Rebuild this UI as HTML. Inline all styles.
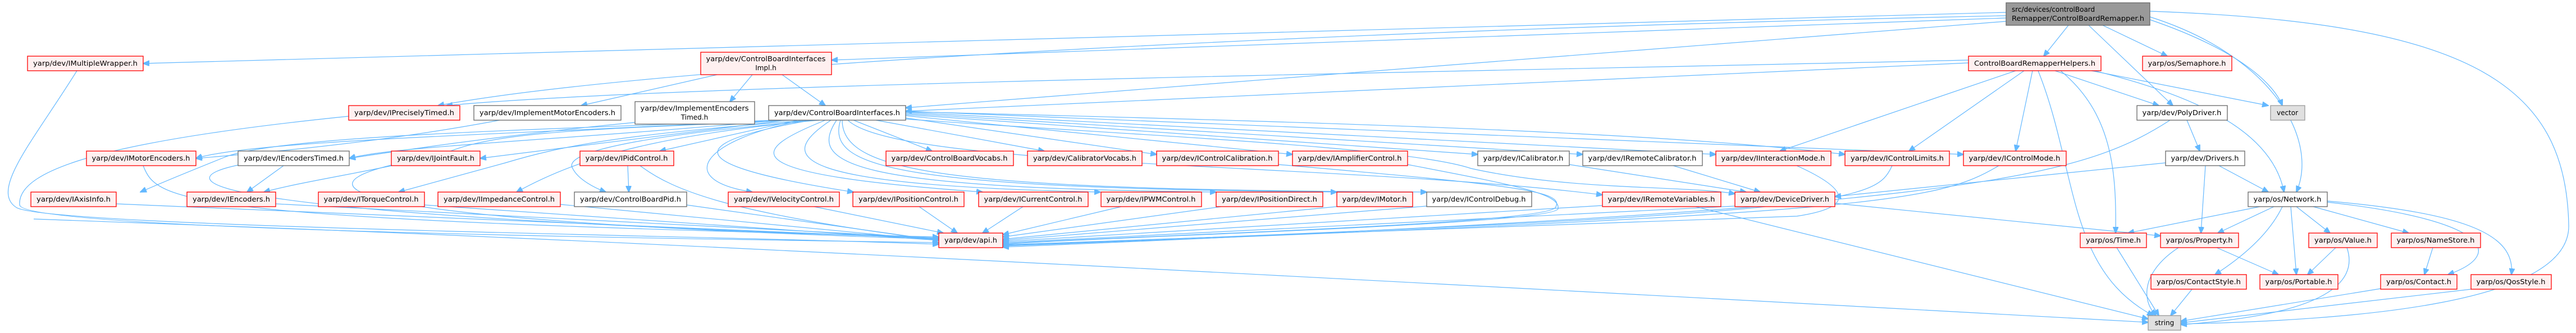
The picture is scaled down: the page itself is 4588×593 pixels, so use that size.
<!DOCTYPE html>
<html><head><meta charset="utf-8"><style>
html,body{margin:0;padding:0;background:#fff;}
svg{display:block;}
text{font-family:"DejaVu Sans","Liberation Sans",sans-serif;font-size:12px;fill:#000;}
.R{fill:#fff0f0;stroke:#ff0000;stroke-width:1.3;}
.G{fill:#fff;stroke:#666;stroke-width:1.3;}
.L{fill:#e0e0e0;stroke:#999;stroke-width:1.3;}
.M{fill:#999;stroke:#666;stroke-width:1.3;}
path{fill:none;stroke:#63b8ff;stroke-width:1.2;marker-end:url(#a);}
</style></head><body>
<svg width="4588" height="593" viewBox="0 0 4588 593" xmlns="http://www.w3.org/2000/svg">
<defs><marker id="a" markerUnits="userSpaceOnUse" markerWidth="12" markerHeight="10" refX="11" refY="5" orient="auto"><polygon points="0,0 12,5 0,10" fill="#63b8ff" stroke="#63b8ff"/></marker></defs>
<g>
<!-- main -->
<path d="M3573,22 L255,113"/>
<path d="M3573,28 C2500,50 1200,110 780,188"/>
<path d="M3573,32 L1481,107"/>
<path d="M3573,38 L1613,192"/>
<path d="M3684,45 L3640,100"/>
<path d="M3720,45 L3870,188"/>
<path d="M3745,45 L3860,100"/>
<path d="M3829,35 C3990,90 4050,150 4065,188"/>
<path d="M3829,30 C4050,100 4130,250 4090,342"/>
<path d="M3829,20 C4400,40 4570,150 4575,400 C4580,540 4200,570 3884,577"/>
<!-- helpers -->
<path d="M3506,107 C2500,130 1200,150 795,188"/>
<path d="M3506,112 L1613,198"/>
<path d="M3590,126 L3170,269"/>
<path d="M3605,126 L3400,269"/>
<path d="M3620,126 L3590,269"/>
<path d="M3660,126 L3845,188"/>
<path d="M3725,126 L4040,188"/>
<path d="M3730,126 C3950,180 4050,250 4068,342"/>
<path d="M3670,126 C3760,200 3770,300 3768,415"/>
<path d="M3630,126 C3700,300 3680,480 3835,562"/>
<!-- impl -->
<path d="M1340,133 L1300,181"/>
<path d="M1393,133 L1470,188"/>
<path d="M1277,133 L1035,188"/>
<path d="M890,214 C700,250 500,270 349,282"/>
<path d="M1131,218 C900,240 700,270 622,282"/>
<path d="M621,207 C200,250 30,300 35,365 C40,410 1200,425 1672,432"/>
<path d="M137,126 C60,250 -20,340 30,370 C100,405 1300,420 1672,435"/>
<path d="M60,390 C600,410 1100,424 3826,574"/>
<!-- CBI -->
<path d="M1380,214 C900,240 450,250 349,282"/>
<path d="M1390,214 C1000,250 700,260 622,282"/>
<path d="M1400,214 L855,282"/>
<path d="M1420,214 L1175,269"/>
<path d="M1520,214 L1660,269"/>
<path d="M1560,214 L1860,269"/>
<path d="M1613,210 L2060,275"/>
<path d="M1613,206 L2302,275"/>
<path d="M1613,204 L2632,275"/>
<path d="M1613,202 L2819,275"/>
<path d="M1613,200 L3056,275"/>
<path d="M1613,199 C2500,220 3000,240 3286,275"/>
<path d="M1613,198 L3497,275"/>
<path d="M1380,214 C1000,230 500,240 400,280 C350,300 300,320 250,342"/>
<path d="M1410,214 C1100,230 900,230 800,270 C700,300 550,320 470,342"/>
<path d="M1440,214 C1100,240 1000,260 900,290 L710,342"/>
<path d="M1450,214 C1200,240 1050,270 920,342"/>
<path d="M1460,214 C1150,240 1000,270 1020,300 C1030,320 1060,335 1079,342"/>
<path d="M1118,295 L1120,342"/>
<path d="M1430,214 C1250,250 1200,320 1340,342"/>
<path d="M1445,214 C1180,260 1250,300 1520,342"/>
<path d="M1470,214 C1330,270 1300,310 1750,342"/>
<path d="M1480,214 C1380,280 1400,330 1960,342"/>
<path d="M1490,214 C1440,290 1500,335 2166,342"/>
<path d="M1497,214 C1470,300 1600,335 2381,342"/>
<path d="M1500,214 C1500,310 1700,338 2541,342"/>
<path d="M1510,214 C1600,300 2400,290 2854,347"/>
<path d="M1613,212 C2000,240 2500,260 2620,300 C2800,340 3000,330 3090,345"/>
<!-- to api -->
<path d="M255,295 C280,360 320,390 1672,422"/>
<path d="M424,294 C300,320 300,380 1672,424"/>
<path d="M505,295 L440,342"/>
<path d="M697,294 C550,330 540,390 1672,426"/>
<path d="M207,363 L1672,425"/>
<path d="M491,363 L1672,424"/>
<path d="M756,365 L1672,428"/>
<path d="M998,364 L1672,428"/>
<path d="M1223,365 L1672,428"/>
<path d="M1140,295 C1200,340 1300,380 1672,428"/>
<path d="M1450,368 L1680,415"/>
<path d="M1637,368 L1705,415"/>
<path d="M1822,368 L1750,415"/>
<path d="M1997,368 L1786,418"/>
<path d="M2175,368 L1786,422"/>
<path d="M2390,367 L1786,426"/>
<path d="M2541,367 L1786,428"/>
<path d="M2854,366 L1786,430"/>
<path d="M3090,367 L1786,432"/>
<path d="M2277,293 C2700,330 2790,340 2770,370 C2740,400 2000,420 1786,434"/>
<path d="M2507,293 C2700,330 2780,345 2775,372 C2760,400 2000,420 1786,435"/>
<path d="M2795,293 L3110,342"/>
<path d="M2980,295 L3135,342"/>
<path d="M3200,295 C3300,340 3300,370 3200,385 L1786,436"/>
<path d="M3370,295 C3340,360 3300,380 1786,437"/>
<path d="M3560,295 C3450,360 3350,380 1786,438"/>
<path d="M3865,214 C3700,320 3500,370 1786,440"/>
<path d="M3895,214 L3918,269"/>
<path d="M3857,290 L3268,350"/>
<path d="M3928,295 L3920,415"/>
<path d="M3952,295 L4040,342"/>
<path d="M3268,362 L3848,420"/>
<path d="M3020,368 L3826,568"/>
<!-- network -->
<path d="M4025,368 L3790,415"/>
<path d="M4050,368 L3950,415"/>
<path d="M4065,368 C4040,420 3990,460 3945,489"/>
<path d="M4080,368 L4090,489"/>
<path d="M4090,368 L4150,415"/>
<path d="M4120,368 L4290,415"/>
<path d="M4145,360 C4420,390 4470,450 4360,489"/>
<path d="M4145,358 C4400,380 4480,420 4473,489"/>
<path d="M3948,441 L4058,489"/>
<path d="M3880,441 C3820,480 3810,530 3840,562"/>
<path d="M4160,441 L4110,489"/>
<path d="M4180,441 C4200,500 4150,560 3884,578"/>
<path d="M4333,441 L4318,489"/>
<path d="M3770,441 L3845,562"/>
<path d="M3905,514 L3866,562"/>
<path d="M4240,514 L3884,572"/>
<path d="M4410,514 L3884,575"/>
</g>
<g text-anchor="middle">
<rect class="M" x="3573" y="5" width="256" height="40"/>
<text x="3583" y="21" text-anchor="start">src/devices/controlBoard</text>
<text x="3583" y="37" text-anchor="start" textLength="236" lengthAdjust="spacingAndGlyphs">Remapper/ControlBoardRemapper.h</text>

<rect class="R" x="49" y="100" width="206" height="26"/><text x="152" y="117" textLength="186" lengthAdjust="spacingAndGlyphs">yarp/dev/IMultipleWrapper.h</text>
<rect class="R" x="1248" y="93" width="233" height="40"/><text x="1364" y="109" textLength="213" lengthAdjust="spacingAndGlyphs">yarp/dev/ControlBoardInterfaces</text><text x="1364" y="125">Impl.h</text>
<rect class="R" x="3506" y="100" width="236" height="26"/><text x="3624" y="117" textLength="216" lengthAdjust="spacingAndGlyphs">ControlBoardRemapperHelpers.h</text>
<rect class="R" x="3816" y="100" width="159" height="26"/><text x="3895" y="117" textLength="139" lengthAdjust="spacingAndGlyphs">yarp/os/Semaphore.h</text>

<rect class="R" x="621" y="188" width="198" height="26"/><text x="720" y="205" textLength="178" lengthAdjust="spacingAndGlyphs">yarp/dev/IPreciselyTimed.h</text>
<rect class="G" x="844" y="188" width="262" height="26"/><text x="975" y="205" textLength="242" lengthAdjust="spacingAndGlyphs">yarp/dev/ImplementMotorEncoders.h</text>
<rect class="G" x="1131" y="181" width="213" height="40"/><text x="1237" y="197" textLength="193" lengthAdjust="spacingAndGlyphs">yarp/dev/ImplementEncoders</text><text x="1237" y="213">Timed.h</text>
<rect class="G" x="1369" y="188" width="244" height="26"/><text x="1491" y="205" textLength="224" lengthAdjust="spacingAndGlyphs">yarp/dev/ControlBoardInterfaces.h</text>
<rect class="G" x="3806" y="188" width="161" height="26"/><text x="3886" y="205" textLength="141" lengthAdjust="spacingAndGlyphs">yarp/dev/PolyDriver.h</text>
<rect class="L" x="4044" y="188" width="61" height="26"/><text x="4074" y="205">vector</text>

<rect class="R" x="154" y="269" width="195" height="26"/><text x="251" y="286" textLength="175" lengthAdjust="spacingAndGlyphs">yarp/dev/IMotorEncoders.h</text>
<rect class="G" x="424" y="269" width="198" height="26"/><text x="523" y="286" textLength="178" lengthAdjust="spacingAndGlyphs">yarp/dev/IEncodersTimed.h</text>
<rect class="R" x="697" y="269" width="158" height="26"/><text x="776" y="286" textLength="138" lengthAdjust="spacingAndGlyphs">yarp/dev/IJointFault.h</text>
<rect class="R" x="1033" y="269" width="167" height="26"/><text x="1116" y="286" textLength="147" lengthAdjust="spacingAndGlyphs">yarp/dev/IPidControl.h</text>
<rect class="R" x="1578" y="269" width="227" height="26"/><text x="1691" y="286" textLength="207" lengthAdjust="spacingAndGlyphs">yarp/dev/ControlBoardVocabs.h</text>
<rect class="R" x="1830" y="269" width="204" height="26"/><text x="1932" y="286" textLength="184" lengthAdjust="spacingAndGlyphs">yarp/dev/CalibratorVocabs.h</text>
<rect class="R" x="2060" y="269" width="217" height="26"/><text x="2168" y="286" textLength="197" lengthAdjust="spacingAndGlyphs">yarp/dev/IControlCalibration.h</text>
<rect class="R" x="2302" y="269" width="205" height="26"/><text x="2404" y="286" textLength="185" lengthAdjust="spacingAndGlyphs">yarp/dev/IAmplifierControl.h</text>
<rect class="G" x="2632" y="269" width="163" height="26"/><text x="2713" y="286" textLength="143" lengthAdjust="spacingAndGlyphs">yarp/dev/ICalibrator.h</text>
<rect class="G" x="2819" y="269" width="213" height="26"/><text x="2925" y="286" textLength="193" lengthAdjust="spacingAndGlyphs">yarp/dev/IRemoteCalibrator.h</text>
<rect class="R" x="3056" y="269" width="205" height="26"/><text x="3158" y="286" textLength="185" lengthAdjust="spacingAndGlyphs">yarp/dev/IInteractionMode.h</text>
<rect class="R" x="3286" y="269" width="186" height="26"/><text x="3379" y="286" textLength="166" lengthAdjust="spacingAndGlyphs">yarp/dev/IControlLimits.h</text>
<rect class="R" x="3497" y="269" width="183" height="26"/><text x="3588" y="286" textLength="163" lengthAdjust="spacingAndGlyphs">yarp/dev/IControlMode.h</text>
<rect class="G" x="3857" y="269" width="141" height="26"/><text x="3927" y="286" textLength="121" lengthAdjust="spacingAndGlyphs">yarp/dev/Drivers.h</text>

<rect class="R" x="55" y="342" width="152" height="26"/><text x="131" y="359" textLength="132" lengthAdjust="spacingAndGlyphs">yarp/dev/IAxisInfo.h</text>
<rect class="R" x="333" y="342" width="158" height="26"/><text x="412" y="359" textLength="138" lengthAdjust="spacingAndGlyphs">yarp/dev/IEncoders.h</text>
<rect class="R" x="567" y="342" width="189" height="26"/><text x="661" y="359" textLength="169" lengthAdjust="spacingAndGlyphs">yarp/dev/ITorqueControl.h</text>
<rect class="R" x="780" y="342" width="218" height="26"/><text x="889" y="359" textLength="198" lengthAdjust="spacingAndGlyphs">yarp/dev/IImpedanceControl.h</text>
<rect class="G" x="1023" y="342" width="200" height="26"/><text x="1123" y="359" textLength="180" lengthAdjust="spacingAndGlyphs">yarp/dev/ControlBoardPid.h</text>
<rect class="R" x="1297" y="342" width="198" height="26"/><text x="1396" y="359" textLength="178" lengthAdjust="spacingAndGlyphs">yarp/dev/IVelocityControl.h</text>
<rect class="R" x="1519" y="342" width="198" height="26"/><text x="1618" y="359" textLength="178" lengthAdjust="spacingAndGlyphs">yarp/dev/IPositionControl.h</text>
<rect class="R" x="1743" y="342" width="195" height="26"/><text x="1840" y="359" textLength="175" lengthAdjust="spacingAndGlyphs">yarp/dev/ICurrentControl.h</text>
<rect class="R" x="1961" y="342" width="179" height="26"/><text x="2050" y="359" textLength="159" lengthAdjust="spacingAndGlyphs">yarp/dev/IPWMControl.h</text>
<rect class="R" x="2166" y="342" width="190" height="26"/><text x="2261" y="359" textLength="170" lengthAdjust="spacingAndGlyphs">yarp/dev/IPositionDirect.h</text>
<rect class="R" x="2381" y="342" width="135" height="26"/><text x="2448" y="359" textLength="115" lengthAdjust="spacingAndGlyphs">yarp/dev/IMotor.h</text>
<rect class="G" x="2541" y="342" width="187" height="26"/><text x="2634" y="359" textLength="167" lengthAdjust="spacingAndGlyphs">yarp/dev/IControlDebug.h</text>
<rect class="R" x="2854" y="342" width="211" height="26"/><text x="2959" y="359" textLength="191" lengthAdjust="spacingAndGlyphs">yarp/dev/IRemoteVariables.h</text>
<rect class="R" x="3090" y="342" width="178" height="26"/><text x="3179" y="359" textLength="158" lengthAdjust="spacingAndGlyphs">yarp/dev/DeviceDriver.h</text>
<rect class="G" x="4004" y="342" width="141" height="26"/><text x="4074" y="359" textLength="121" lengthAdjust="spacingAndGlyphs">yarp/os/Network.h</text>

<rect class="R" x="1672" y="415" width="114" height="26"/><text x="1729" y="432" textLength="94" lengthAdjust="spacingAndGlyphs">yarp/dev/api.h</text>
<rect class="R" x="3705" y="415" width="118" height="26"/><text x="3764" y="432" textLength="98" lengthAdjust="spacingAndGlyphs">yarp/os/Time.h</text>
<rect class="R" x="3848" y="415" width="139" height="26"/><text x="3917" y="432" textLength="119" lengthAdjust="spacingAndGlyphs">yarp/os/Property.h</text>
<rect class="R" x="4112" y="415" width="122" height="26"/><text x="4173" y="432" textLength="102" lengthAdjust="spacingAndGlyphs">yarp/os/Value.h</text>
<rect class="R" x="4259" y="415" width="159" height="26"/><text x="4338" y="432" textLength="139" lengthAdjust="spacingAndGlyphs">yarp/os/NameStore.h</text>

<rect class="R" x="3831" y="489" width="170" height="26"/><text x="3916" y="506" textLength="150" lengthAdjust="spacingAndGlyphs">yarp/os/ContactStyle.h</text>
<rect class="R" x="4025" y="489" width="139" height="26"/><text x="4094" y="506" textLength="119" lengthAdjust="spacingAndGlyphs">yarp/os/Portable.h</text>
<rect class="R" x="4240" y="489" width="136" height="26"/><text x="4308" y="506" textLength="116" lengthAdjust="spacingAndGlyphs">yarp/os/Contact.h</text>
<rect class="R" x="4401" y="489" width="143" height="26"/><text x="4472" y="506" textLength="123" lengthAdjust="spacingAndGlyphs">yarp/os/QosStyle.h</text>

<rect class="L" x="3826" y="562" width="58" height="26"/><text x="3855" y="579">string</text>
</g>
</svg>
</body></html>
